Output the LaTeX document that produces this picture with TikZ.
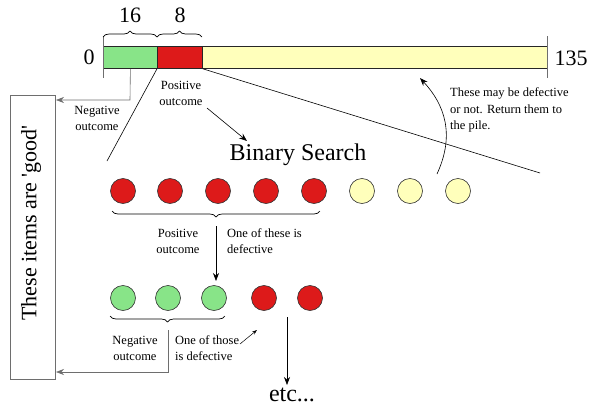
\documentclass[tikz,border=0pt]{standalone}
\usepackage{fontspec}
\setmainfont{Liberation Serif}
\usetikzlibrary{decorations.pathreplacing,arrows.meta}
\definecolor{gbar}{RGB}{136,228,136}
\definecolor{rbar}{RGB}{221,26,26}
\definecolor{ybar}{RGB}{255,255,187}
\definecolor{lgray}{RGB}{110,110,110}
\tikzset{
  seg/.style={draw=black!85, line width=0.8pt, inner sep=0pt, minimum height=22pt, anchor=north west},
  ball/.style={circle, draw=black!80, line width=0.6pt, minimum size=25pt, inner sep=0pt},
  small/.style={font=\fontsize{12.5}{16}\selectfont, align=center, inner sep=1pt},
  smallL/.style={font=\fontsize{12.5}{16.5}\selectfont, align=left, inner sep=1pt},
  big/.style={font=\fontsize{22}{24}\selectfont},
  brc/.style={decorate, decoration={brace, amplitude=6pt}, line width=0.7pt},
  arr/.style={-{Stealth[length=8pt,width=6pt]}, line width=0.6pt},
  tick/.style={draw=lgray, line width=0.9pt},
}
\begin{document}
\begin{tikzpicture}[x=1pt,y=-1pt]
\useasboundingbox (0,0) rectangle (590,407);
% bar
\node[seg, fill=gbar, minimum width=54pt] (g) at (103,46) {};
\node[seg, fill=rbar, minimum width=45pt] (r) at (157,46) {};
\node[seg, fill=ybar, minimum width=345pt] (y) at (202,46) {};
\coordinate (t0a) at (103,36); \coordinate (t0b) at (103,78);
\coordinate (t1a) at (547,36); \coordinate (t1b) at (547,78);
\draw[tick] (t0a) -- (t0b);
\draw[tick] (t1a) -- (t1b);
\node[big] (zero) at (89,57) {0};
\node[big] (end) at (571,58) {135};
% braces above
\coordinate (b1a) at (103,37); \coordinate (b1b) at (157,37); \coordinate (b2b) at (202,37);
\draw[brc] (b1a) -- (b1b);
\draw[brc] (b1b) -- (b2b);
\node[big] (n16) at (130,15) {16};
\node[big] (n8) at (180,15) {8};
% good box
\node[draw=lgray, line width=0.9pt, minimum width=45pt, minimum height=284pt, inner sep=0pt] (box) at (32.5,237) {};
\node[rotate=90, font=\fontsize{22}{24}\selectfont] (boxtext) at (31,223) {These items are \textquotesingle good\textquotesingle};
% negative outcome (top)
\coordinate (gdown) at (130,100);
\coordinate (a1) at (56,100);
\draw[arr, draw=lgray] (g.south) -- (gdown) -- (a1);
\node[small] (neg1) at (97,118) {Negative\\outcome};
% positive outcome
\node[small] (pos1) at (181,93) {Positive\\outcome};
\coordinate (p1s) at (207,108); \coordinate (p1e) at (247,141);
\draw[arr] (p1s) -- (p1e);
\node[font=\fontsize{24}{26}\selectfont] (bs) at (298,155) {Binary Search};
% lines from bar
\coordinate (l1) at (107,161);
\coordinate (l2) at (540,173);
\draw[line width=0.6pt] (r.south west) -- (l1);
\draw[line width=0.6pt] (r.south east) -- (l2);
% first row of balls
\foreach \i/\x/\c in {1/123/rbar,2/170/rbar,3/218/rbar,4/266/rbar,5/314/rbar,6/362/ybar,7/410/ybar,8/458/ybar}
  \node[ball, fill=\c] (a\i) at (\x,191) {};
% curved arrow
\coordinate (cs) at (437,174);
\coordinate (ce) at (420,78);
\draw[arr] (cs) .. controls (455,135) and (445,105) .. (ce);
\node[smallL, anchor=west] (note) at (449,110) {These may be defective\\or not. Return them to\\the pile.};
% brace under first row
\coordinate (br1a) at (320,211); \coordinate (br1b) at (112,211);
\draw[brc] (br1a) -- (br1b);
\coordinate (d1s) at (216,226); \coordinate (d1e) at (216,281);
\draw[arr] (d1s) -- (d1e);
\node[small] (pos2) at (178,241) {Positive\\outcome};
\node[smallL, anchor=west] (def1) at (226,241) {One of these is\\defective};
% second row
\foreach \i/\x/\c in {1/123/gbar,2/168/gbar,3/214/gbar,4/264/rbar,5/310/rbar}
  \node[ball, fill=\c] (b\i) at (\x,298) {};
\coordinate (br2a) at (225,316); \coordinate (br2b) at (110,316);
\draw[brc] (br2a) -- (br2b);
\coordinate (nd1) at (168,330); \coordinate (nd2) at (168,372); \coordinate (a2) at (56,372);
\draw[arr, draw=lgray] (nd1) -- (nd2) -- (a2);
\node[small] (neg2) at (135,348) {Negative\\outcome};
\node[smallL, anchor=west] (def2) at (174,348) {One of those\\is defective};
\coordinate (o1) at (240,344); \coordinate (o2) at (257,330);
\draw[-{Stealth[length=5pt,width=3.5pt]}, line width=0.5pt] (o1) -- (o2);
\coordinate (e1) at (287,317); \coordinate (e2) at (287,385);
\draw[arr] (e1) -- (e2);
\node[font=\fontsize{24}{26}\selectfont] (etc) at (292,395) {etc...};
\end{tikzpicture}
\end{document}
